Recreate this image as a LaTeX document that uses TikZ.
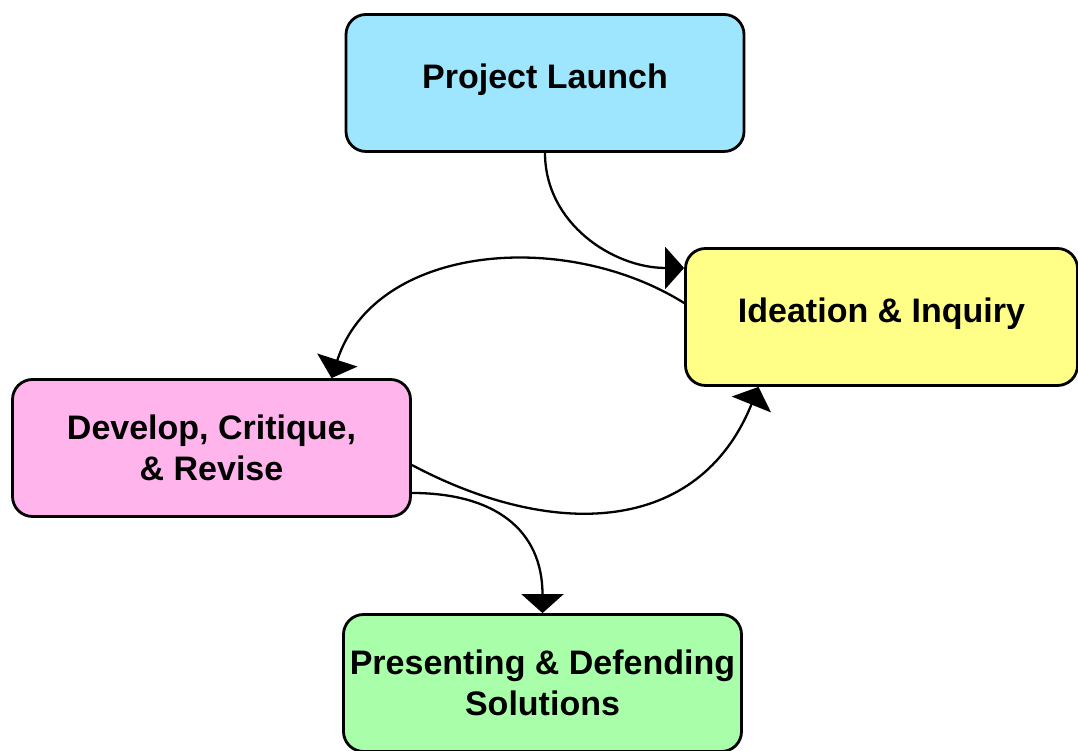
\documentclass[tikz,border=0pt]{standalone}
\usepackage{fontspec}
\setmainfont{Liberation Sans}
\usetikzlibrary{arrows.meta}
\definecolor{launchblue}{RGB}{158,230,254}
\definecolor{ideayellow}{RGB}{255,255,136}
\definecolor{developpink}{RGB}{255,180,236}
\definecolor{presentgreen}{RGB}{169,255,169}
\begin{document}
\begin{tikzpicture}[x=1pt,y=1pt,
  stage/.style={draw=black,line width=2.8pt,rounded corners=20pt,minimum width=398pt,minimum height=137pt,inner sep=0pt,align=center,font=\fontsize{34}{41}\selectfont\bfseries},
  oneline/.style={text depth=13pt},
  flow/.style={line width=2.3pt,-{Triangle[length=19pt,width=42pt]}}]
\useasboundingbox (0,0) rectangle (1078,751);
\node[stage,oneline,fill=launchblue] (launch) at (545,668) {Project Launch};
\node[stage,oneline,fill=ideayellow,minimum width=392pt] (ideation) at (881.5,434) {Ideation \& Inquiry};
\node[stage,fill=developpink] (develop) at (211.5,303) {Develop, Critique,\\ \& Revise};
\node[stage,fill=presentgreen] (present) at (542.5,68) {Presenting \& Defending\\Solutions};
\draw[flow] (launch.south) to[out=-90,in=180] ([yshift=49pt]ideation.west);
\draw[flow] ([yshift=14pt]ideation.west) to[out=148,in=72] ([xshift=120pt]develop.north);
\draw[flow] ([yshift=-17pt]develop.east) to[out=-28,in=-112,looseness=1.15] ([xshift=-123pt]ideation.south);
\draw[flow] ([yshift=-45pt]develop.east) to[out=0,in=90,looseness=1.2] (present.north);
\end{tikzpicture}
\end{document}
